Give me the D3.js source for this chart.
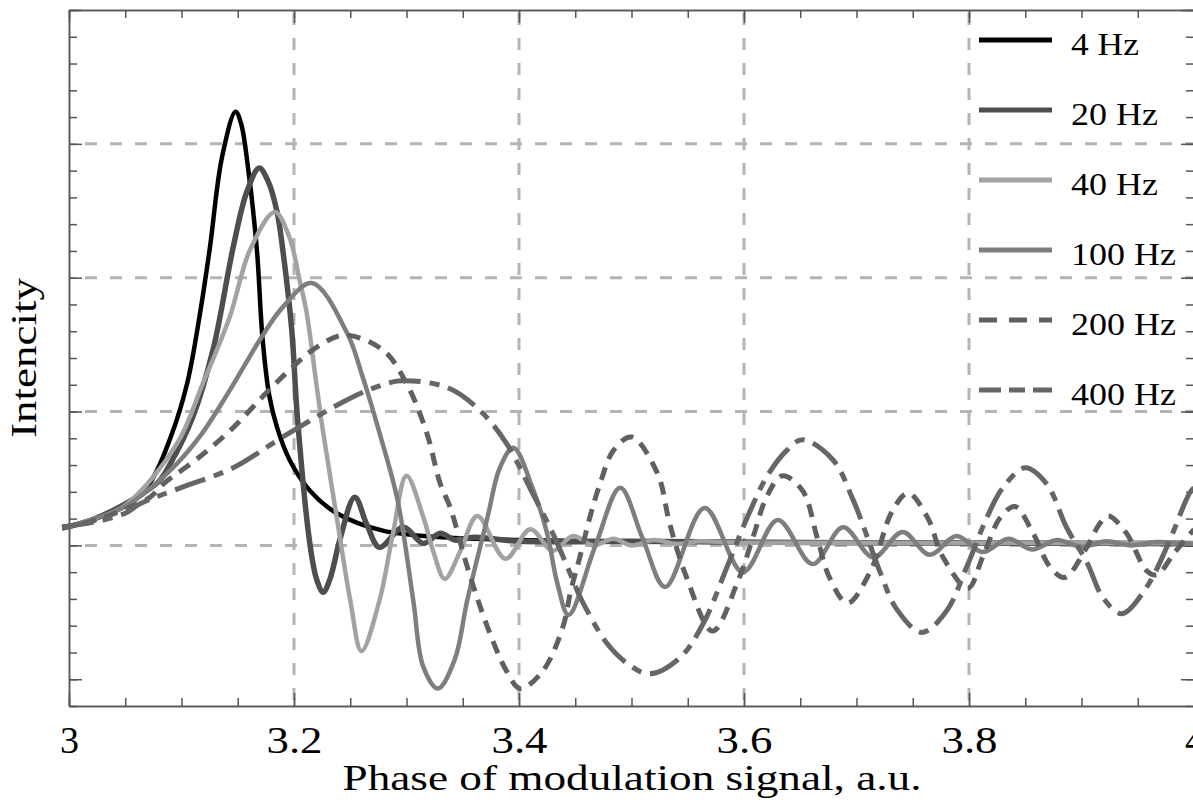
<!DOCTYPE html>
<html>
<head>
<meta charset="utf-8">
<script src="https://cdn.jsdelivr.net/npm/d3@7"></script>
<style>
  html, body { margin: 0; padding: 0; background: #fff; }
  svg { display: block; }
  svg text { font-family: "Liberation Serif", "Times New Roman", Times, "Nimbus Roman", Tinos, serif; fill: #000; }
</style>
</head>
<body>
<svg id="chart" width="1193" height="805"></svg>
<script>
// ---------------- data ----------------
const seriesNames = ["4 Hz", "20 Hz", "40 Hz", "100 Hz", "200 Hz", "400 Hz"];

const x4Hz = [2.994, 3.02, 3.05, 3.072, 3.09, 3.105, 3.116, 3.125, 3.136, 3.148, 3.153, 3.159, 3.167, 3.172, 3.178, 3.185, 3.196, 3.214, 3.238, 3.279, 3.332, 3.4, 3.5, 3.7, 4.0];
const y4Hz = [0.13, 0.19, 0.30, 0.47, 0.80, 1.21, 1.71, 2.21, 2.90, 3.24, 3.15, 2.83, 2.21, 1.55, 1.12, 0.88, 0.64, 0.41, 0.24, 0.11, 0.06, 0.04, 0.03, 0.02, 0.01];

const x20Hz = [2.994, 3.02, 3.05, 3.08, 3.09, 3.110, 3.128, 3.146, 3.158, 3.169, 3.177, 3.185, 3.190, 3.198, 3.203, 3.214, 3.220, 3.226, 3.232, 3.241, 3.254, 3.265, 3.276, 3.297, 3.315, 3.330, 3.343, 3.36, 3.4, 3.5, 3.7, 4.0];
const y20Hz = [0.13, 0.19, 0.31, 0.48, 0.61, 0.96, 1.46, 2.23, 2.64, 2.82, 2.72, 2.49, 2.21, 1.61, 0.96, 0.02, -0.25, -0.35, -0.25, 0.05, 0.36, 0.15, -0.015, 0.135, 0.015, 0.09, 0.04, 0.06, 0.03, 0.03, 0.02, 0.015];

const x40Hz = [2.994, 3.02, 3.05, 3.096, 3.119, 3.143, 3.161, 3.183, 3.196, 3.205, 3.211, 3.220, 3.226, 3.238, 3.250, 3.260, 3.276, 3.288, 3.300, 3.315, 3.324, 3.334, 3.348, 3.363, 3.388, 3.410, 3.430, 3.448, 3.466, 3.484, 3.50, 3.52, 3.54, 3.56, 3.6, 3.7, 4.0];
const y40Hz = [0.13, 0.19, 0.30, 0.76, 1.21, 1.71, 2.21, 2.49, 2.30, 1.98, 1.75, 1.20, 0.84, 0.21, -0.41, -0.79, -0.41, 0.09, 0.52, 0.21, -0.05, -0.25, -0.04, 0.22, -0.10, 0.12, -0.04, 0.07, 0.0, 0.05, 0.0, 0.04, 0.01, 0.03, 0.02, 0.02, 0.015];

const x100Hz = [2.994, 3.02, 3.05, 3.090, 3.116, 3.143, 3.170, 3.190, 3.216, 3.247, 3.261, 3.276, 3.292, 3.306, 3.315, 3.328, 3.343, 3.354, 3.372, 3.383, 3.395, 3.412, 3.425, 3.434, 3.444, 3.468, 3.490, 3.510, 3.530, 3.565, 3.599, 3.630, 3.661, 3.688, 3.715, 3.741, 3.765, 3.789, 3.812, 3.835, 3.856, 3.878, 3.900, 3.922, 3.944, 3.966, 4.0];
const y100Hz = [0.13, 0.19, 0.29, 0.56, 0.81, 1.16, 1.54, 1.78, 1.96, 1.59, 1.26, 0.84, 0.34, -0.41, -0.91, -1.07, -0.85, -0.41, 0.21, 0.58, 0.73, 0.43, 0.09, -0.28, -0.52, 0.0, 0.43, 0.05, -0.31, 0.28, -0.20, 0.19, -0.14, 0.135, -0.09, 0.10, -0.07, 0.07, -0.05, 0.05, -0.03, 0.04, -0.01, 0.03, 0.0, 0.025, 0.01];

const x200Hz = [2.994, 3.02, 3.05, 3.072, 3.084, 3.116, 3.146, 3.172, 3.196, 3.220, 3.245, 3.279, 3.300, 3.318, 3.330, 3.339, 3.354, 3.372, 3.389, 3.401, 3.421, 3.439, 3.446, 3.454, 3.463, 3.472, 3.484, 3.500, 3.523, 3.534, 3.549, 3.572, 3.594, 3.608, 3.620, 3.634, 3.652, 3.665, 3.676, 3.692, 3.712, 3.732, 3.746, 3.763, 3.777, 3.799, 3.812, 3.828, 3.841, 3.857, 3.872, 3.885, 3.905, 3.916, 3.924, 3.940, 3.958, 3.967, 3.983, 4.0];
const y200Hz = [0.13, 0.18, 0.27, 0.36, 0.46, 0.66, 0.88, 1.11, 1.31, 1.48, 1.57, 1.46, 1.21, 0.84, 0.46, 0.28, -0.16, -0.61, -0.94, -1.07, -0.94, -0.61, -0.34, -0.09, 0.21, 0.46, 0.71, 0.81, 0.54, 0.16, -0.24, -0.64, -0.28, 0.06, 0.36, 0.52, 0.41, 0.06, -0.24, -0.43, -0.20, 0.26, 0.39, 0.21, -0.09, -0.32, -0.09, 0.21, 0.29, 0.09, -0.16, -0.24, -0.01, 0.16, 0.22, 0.09, -0.19, -0.22, -0.05, 0.12];

const x400Hz = [2.994, 3.02, 3.05, 3.063, 3.099, 3.146, 3.190, 3.250, 3.279, 3.295, 3.336, 3.365, 3.389, 3.412, 3.430, 3.448, 3.454, 3.478, 3.496, 3.516, 3.543, 3.564, 3.585, 3.603, 3.620, 3.638, 3.652, 3.679, 3.697, 3.708, 3.721, 3.736, 3.758, 3.780, 3.798, 3.816, 3.830, 3.850, 3.869, 3.887, 3.905, 3.919, 3.936, 3.958, 3.976, 3.996, 4.0];
const y400Hz = [0.14, 0.17, 0.24, 0.31, 0.43, 0.58, 0.81, 1.10, 1.20, 1.23, 1.18, 1.01, 0.76, 0.39, 0.09, -0.26, -0.38, -0.73, -0.88, -0.96, -0.84, -0.58, -0.16, 0.21, 0.51, 0.71, 0.79, 0.64, 0.34, 0.10, -0.20, -0.48, -0.65, -0.49, -0.16, 0.21, 0.43, 0.58, 0.46, 0.13, -0.13, -0.39, -0.51, -0.31, -0.01, 0.39, 0.43];

const xMajorTicks = [3, 3.2, 3.4, 3.6, 3.8, 4];
const xTickLabels = ["3", "3.2", "3.4", "3.6", "3.8", "4"];
const yMajorTicks = [-1, 0, 1, 2, 3, 4];
const xGridValues = [3.2, 3.4, 3.6, 3.8];
const yGridValues = [0, 1, 2, 3];

// ---------------- styles ----------------
const seriesStyles = [
  { color: "#000000", width: 4.5, dash: null },
  { color: "#4e4e4e", width: 5.5, dash: null },
  { color: "#a2a2a2", width: 4.5, dash: null },
  { color: "#7e7e7e", width: 4.5, dash: null },
  { color: "#606060", width: 5, dash: "13,9" },
  { color: "#666666", width: 5, dash: "32,9,10,9" }
];
const seriesX = [x4Hz, x20Hz, x40Hz, x100Hz, x200Hz, x400Hz];
const seriesY = [y4Hz, y20Hz, y40Hz, y100Hz, y200Hz, y400Hz];

const FONT = "'Liberation Serif', 'Times New Roman', Times, 'Nimbus Roman', Tinos, serif";

const svg = d3.select("#chart");
const x = d3.scaleLinear().domain([3, 4]).range([69, 1194]);
const y = d3.scaleLinear().domain([-1.2, 4]).range([706, 10]);

// grid
const grid = svg.append("g").attr("stroke", "#b4b4b4").attr("stroke-width", 3).attr("stroke-dasharray", "12,13");
grid.selectAll("line.gx").data(xGridValues).join("line").attr("class", "gx")
  .attr("x1", d => x(d)).attr("x2", d => x(d)).attr("y1", y(4) + 3).attr("y2", y(-1.2));
grid.selectAll("line.gy").data(yGridValues).join("line").attr("class", "gy")
  .attr("y1", d => y(d)).attr("y2", d => y(d)).attr("x1", x(3) + 16).attr("x2", x(4));

// axes
const axisColor = "#555";
function styleAxis(g) {
  g.selectAll("path.domain").attr("stroke", axisColor).attr("stroke-width", 1.5);
  g.selectAll(".tick line").attr("stroke", axisColor).attr("stroke-width", 1.5);
}
const xMinor = d3.range(0, 21).map(i => 3 + i * 0.05);
const yMinor = d3.range(0, 27).map(i => -1.2 + i * 0.2);

// bottom
svg.append("g").attr("transform", `translate(0,${y(-1.2)})`)
  .call(d3.axisBottom(x).tickValues(xMinor).tickSize(-8).tickSizeOuter(0).tickFormat(""))
  .call(styleAxis);
const bottomMajor = svg.append("g").attr("transform", `translate(0,${y(-1.2)})`)
  .call(d3.axisBottom(x).tickValues(xMajorTicks).tickSize(-13).tickSizeOuter(0).tickPadding(21)
    .tickFormat((d, i) => xTickLabels[i]))
  .call(styleAxis);
bottomMajor.attr("font-family", FONT);
bottomMajor.selectAll("text")
  .attr("font-size", 37).attr("fill", "#000")
  .attr("textLength", d => (xTickLabels[xMajorTicks.indexOf(d)].length > 1 ? 56 : 19))
  .attr("lengthAdjust", "spacingAndGlyphs");
// top
svg.append("g").attr("transform", `translate(0,${y(4)})`)
  .call(d3.axisTop(x).tickValues(xMinor).tickSize(-8).tickSizeOuter(0).tickFormat(""))
  .call(styleAxis);
svg.append("g").attr("transform", `translate(0,${y(4)})`)
  .call(d3.axisTop(x).tickValues(xMajorTicks).tickSize(-13).tickSizeOuter(0).tickFormat(""))
  .call(styleAxis);
// left
svg.append("g").attr("transform", `translate(${x(3)},0)`)
  .call(d3.axisLeft(y).tickValues(yMinor).tickSize(-8).tickSizeOuter(0).tickFormat(""))
  .call(styleAxis);
svg.append("g").attr("transform", `translate(${x(3)},0)`)
  .call(d3.axisLeft(y).tickValues(yMajorTicks).tickSize(-13).tickSizeOuter(0).tickFormat(""))
  .call(styleAxis);
// right
svg.append("g").attr("transform", `translate(${x(4)},0)`)
  .call(d3.axisRight(y).tickValues(yMinor).tickSize(-8).tickSizeOuter(0).tickFormat(""))
  .call(styleAxis);
svg.append("g").attr("transform", `translate(${x(4)},0)`)
  .call(d3.axisRight(y).tickValues(yMajorTicks).tickSize(-13).tickSizeOuter(0).tickFormat(""))
  .call(styleAxis);

// lines (4 Hz first, 400 Hz last)
const line = d3.line().x(d => x(d[0])).y(d => y(d[1])).curve(d3.curveCatmullRom.alpha(0.5));
seriesX.forEach((xs, i) => {
  const pts = xs.map((xv, j) => [xv, seriesY[i][j]]);
  const st = seriesStyles[i];
  svg.append("path").datum(pts)
    .attr("d", line)
    .attr("fill", "none")
    .attr("stroke", st.color)
    .attr("stroke-width", st.width)
    .attr("stroke-linejoin", "round")
    .attr("stroke-dasharray", st.dash);
});

// legend
const legendWidths = [68, 87, 87, 105, 105, 105];
const legend = svg.append("g").attr("font-family", FONT);
seriesNames.forEach((name, i) => {
  const st = seriesStyles[i];
  const cy = 40 + i * 70;
  legend.append("line")
    .attr("x1", 979).attr("x2", 1052).attr("y1", cy).attr("y2", cy)
    .attr("stroke", st.color).attr("stroke-width", 5)
    .attr("stroke-dasharray", i === 4 ? "18,12" : (i === 5 ? "22,8,16,8" : null));
  legend.append("text")
    .attr("x", 1071).attr("y", cy + 15)
    .attr("font-size", 31)
    .attr("textLength", legendWidths[i]).attr("lengthAdjust", "spacingAndGlyphs")
    .text(name);
});

// axis titles
svg.append("text")
  .attr("x", 632).attr("y", 790)
  .attr("text-anchor", "middle")
  .attr("font-size", 35)
  .attr("textLength", 579).attr("lengthAdjust", "spacingAndGlyphs")
  .text("Phase of modulation signal, a.u.");

svg.append("text")
  .attr("transform", "translate(36,358) rotate(-90)")
  .attr("text-anchor", "middle")
  .attr("font-size", 35)
  .attr("textLength", 160).attr("lengthAdjust", "spacingAndGlyphs")
  .text("Intencity");
</script>
</body>
</html>
